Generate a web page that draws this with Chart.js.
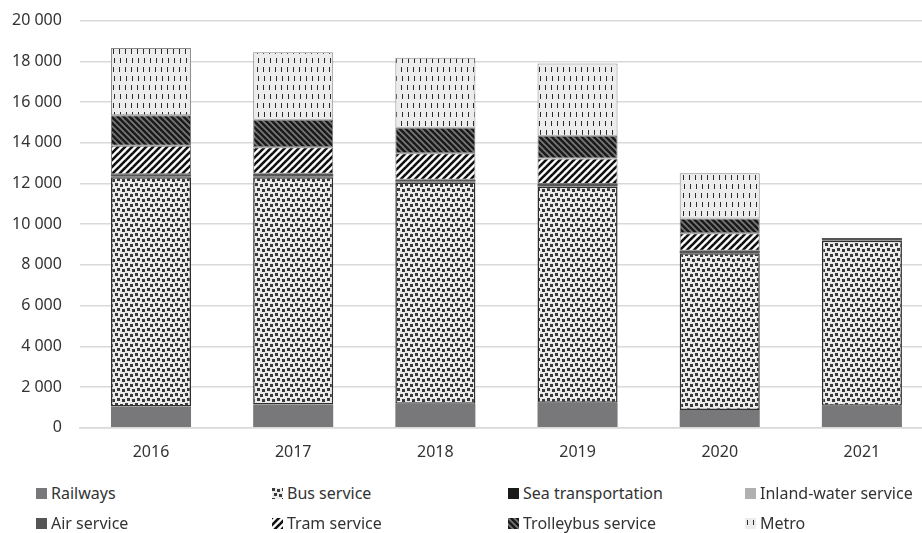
<!DOCTYPE html>
<html>
<head>
<meta charset="utf-8">
<script src="https://cdn.jsdelivr.net/npm/chart.js@4"></script>
<style>
  body { margin: 0; background: #fff; font-family: "Noto Sans", sans-serif; overflow: hidden; }
  #wrap { position: relative; width: 922px; height: 533px; overflow: hidden; }
  #chartBox { position: absolute; left: -15px; top: -7px; width: 948px; height: 484px; }
  #legend { position: absolute; left: 36px; top: 482px; display: grid;
    grid-template-columns: 236px 236px 237px 200px; row-gap: 8px; font-size: 16px; color: #333; }
  .item { display: flex; align-items: center; height: 22px; white-space: nowrap; }
  .item canvas { margin-right: 4px; }
</style>
</head>
<body>
<div id="wrap">
  <div id="chartBox"><canvas id="myChart"></canvas></div>
  <div id="legend"></div>
</div>
<script>
const years = ['2016', '2017', '2018', '2019', '2020', '2021'];
const railways = [1050, 1150, 1180, 1230, 870, 1080];
const bus = [11250, 11150, 10870, 10610, 7700, 8110];
const sea = [10, 10, 10, 10, 5, 5];
const inlandWater = [20, 20, 20, 20, 15, 15];
const air = [120, 150, 100, 100, 110, 110];
const tram = [1400, 1300, 1300, 1260, 850, 0];
const trolleybus = [1500, 1350, 1260, 1120, 730, 0];
const metro = [3300, 3320, 3440, 3540, 2220, 0];
const yTicks = [0, 2000, 4000, 6000, 8000, 10000, 12000, 14000, 16000, 18000, 20000];

// small canvas tiles used as fill patterns
function tile(w, h, draw) {
  const c = document.createElement('canvas');
  c.width = w; c.height = h;
  draw(c.getContext('2d'), w, h);
  return c;
}
const ctxMain = document.getElementById('myChart').getContext('2d');

const busTile = tile(10, 10, (g, w, h) => {
  g.fillStyle = '#ebebeb'; g.fillRect(0, 0, w, h);
  g.fillStyle = '#3a3a3a';
  g.fillRect(0, 0, 3, 3); g.fillRect(5, 1, 3, 3);
  g.fillRect(2, 5, 3, 3); g.fillRect(7, 6, 3, 3);
});
const tramTile = tile(7, 7, (g, w, h) => {
  g.fillStyle = '#fff'; g.fillRect(0, 0, w, h);
  g.strokeStyle = '#111'; g.lineWidth = 2.6;
  for (let k = -1; k <= 1; k++) {
    g.beginPath(); g.moveTo(k * 7 - 1, 8); g.lineTo(k * 7 + 8, -1); g.stroke();
  }
});
const trolleyTile = tile(6, 6, (g, w, h) => {
  g.fillStyle = '#1b1b1b'; g.fillRect(0, 0, w, h);
  g.strokeStyle = '#7a7a7a'; g.lineWidth = 1.6;
  for (let k = -1; k <= 1; k++) {
    g.beginPath(); g.moveTo(k * 6 - 1, -1); g.lineTo(k * 6 + 7, 7); g.stroke();
  }
});
const metroTile = tile(6, 18, (g, w, h) => {
  g.fillStyle = '#ececec'; g.fillRect(0, 0, w, h);
  g.fillStyle = '#2a2a2a';
  g.fillRect(2, 2, 1, 5); g.fillRect(3, 11, 1, 5);
});
const pat = t => ctxMain.createPattern(t, 'repeat');

const series = [
  { label: 'Railways', data: railways, backgroundColor: '#78787a', borderColor: '#78787a', borderWidth: 0, swatch: '#78787a' },
  { label: 'Bus service', data: bus, backgroundColor: pat(busTile), borderColor: '#2e2e2e', borderWidth: 1.5, swatch: busTile },
  { label: 'Sea transportation', data: sea, backgroundColor: '#1a1a1a', borderColor: '#1a1a1a', borderWidth: 0, swatch: '#1a1a1a' },
  { label: 'Inland-water service', data: inlandWater, backgroundColor: '#b0b0b0', borderColor: '#b0b0b0', borderWidth: 0, swatch: '#b0b0b0' },
  { label: 'Air service', data: air, backgroundColor: '#555', borderColor: '#555', borderWidth: 0, swatch: '#555' },
  { label: 'Tram service', data: tram, backgroundColor: pat(tramTile), borderColor: '#777', borderWidth: 1, swatch: tramTile },
  { label: 'Trolleybus service', data: trolleybus, backgroundColor: pat(trolleyTile), borderColor: '#777', borderWidth: 1, swatch: trolleyTile },
  { label: 'Metro', data: metro, backgroundColor: pat(metroTile), borderColor: '#8a8a8a', borderWidth: 1, swatch: metroTile }
];

// legend in html, 4 columns
const legend = document.getElementById('legend');
series.forEach(s => {
  const item = document.createElement('div');
  item.className = 'item';
  const sw = document.createElement('canvas');
  sw.width = 11; sw.height = 11;
  const g = sw.getContext('2d');
  g.fillStyle = typeof s.swatch === 'string' ? s.swatch : g.createPattern(s.swatch, 'repeat');
  g.fillRect(0, 0, 11, 11);
  item.appendChild(sw);
  item.appendChild(document.createTextNode(s.label));
  legend.appendChild(item);
});

const fmt = v => String(v).replace(/\B(?=(\d{3})+(?!\d))/g, ' ');

new Chart(ctxMain, {
  type: 'bar',
  data: {
    labels: years,
    datasets: series.map(s => ({
      label: s.label,
      data: s.data,
      backgroundColor: s.backgroundColor,
      borderColor: s.borderColor,
      borderWidth: s.borderWidth,
      borderSkipped: false,
      categoryPercentage: 1,
      barPercentage: 0.563
    }))
  },
  options: {
    responsive: true,
    maintainAspectRatio: false,
    animation: false,
    layout: { padding: { left: 9, right: 0, top: 3, bottom: 0 } },
    plugins: { legend: { display: false }, tooltip: { enabled: false } },
    scales: {
      x: {
        stacked: true,
        grid: { display: false, drawTicks: false },
        border: { color: '#d9d9d9', width: 1.5 },
        ticks: { color: '#333', padding: 15, font: { family: 'Noto Sans', size: 16 } }
      },
      y: {
        stacked: true,
        min: 0, max: 20000,
        afterBuildTicks: axis => { axis.ticks = yTicks.map(v => ({ value: v })); },
        grid: { color: '#d9d9d9', lineWidth: 1.5, drawTicks: false },
        border: { display: false },
        ticks: { color: '#333', padding: 18, font: { family: 'Noto Sans', size: 16 }, callback: v => fmt(v) }
      }
    }
  }
});
</script>
</body>
</html>
